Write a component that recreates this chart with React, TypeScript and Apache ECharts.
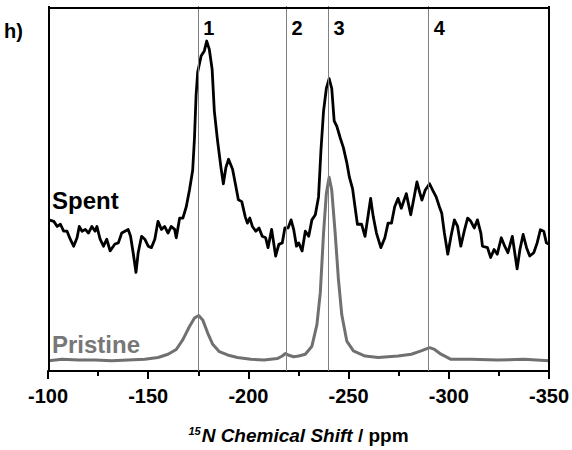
import React, { useEffect, useRef } from "react";
import * as echarts from "echarts";

// 15N chemical shift (ppm) and intensity (a.u., 0-100)
const spentShift = [
  -100.4, -102.9, -104.6, -106.2, -107.8, -109.5, -111.1, -112.8, -114.5, -115.6,
  -117.0, -118.6, -120.2, -121.9, -123.5, -124.4, -126.0, -127.7, -129.3, -131.0,
  -133.4, -135.1, -136.8, -138.4, -140.0, -141.2, -142.5, -143.9, -145.0, -146.7,
  -148.3, -150.0, -151.6, -153.3, -154.9, -156.6, -158.2, -159.9, -161.5, -163.2,
  -164.0, -165.7, -167.3, -169.0, -170.6, -172.2, -173.1, -173.9, -174.7, -176.4,
  -178.0, -179.2, -180.5, -181.9, -183.0, -184.6, -186.3, -187.5, -188.8, -190.1,
  -192.1, -193.8, -195.0, -196.7, -198.4, -199.5, -200.7, -202.0, -203.7, -205.3,
  -206.9, -208.6, -209.8, -211.6, -213.6, -215.2, -216.9, -218.2, -219.8, -221.3,
  -222.6, -224.0, -225.1, -226.8, -228.4, -230.1, -231.7, -233.4, -235.0, -236.2,
  -237.5, -238.9, -240.3, -241.6, -242.8, -244.1, -245.8, -247.4, -249.1, -250.4,
  -252.0, -253.2, -254.4, -256.5, -258.2, -259.8, -261.0, -262.3, -263.9, -266.1,
  -268.1, -269.7, -271.4, -273.0, -274.7, -276.3, -278.8, -281.0, -282.1, -284.1,
  -285.4, -286.6, -288.2, -290.4, -292.0, -293.7, -295.3, -296.5, -297.8, -299.5,
  -301.1, -302.8, -304.4, -306.0, -307.7, -309.4, -311.0, -312.7, -314.3, -316.0,
  -316.8, -319.3, -320.9, -322.6, -324.2, -326.2, -327.9, -329.5, -331.7, -334.1,
  -335.5, -337.1, -338.8, -340.4, -342.4, -344.1, -345.7, -347.4, -348.7, -350.0,
];
const spentIntensity = [
  41.4, 41.0, 39.6, 40.2, 38.3, 38.3, 36.1, 34.2, 36.5, 39.6,
  38.3, 38.8, 37.8, 39.6, 38.3, 39.6, 36.1, 34.2, 36.1, 32.9,
  34.8, 35.1, 37.8, 38.3, 38.8, 36.9, 32.4, 27.0, 32.4, 36.9,
  36.1, 34.2, 33.8, 36.1, 41.0, 38.8, 39.6, 37.8, 39.6, 38.8,
  36.5, 41.9, 41.9, 45.0, 49.6, 55.0, 63.9, 75.6, 81.9, 86.3,
  87.7, 90.4, 88.1, 82.7, 71.2, 63.1, 55.8, 51.3, 55.8, 58.0,
  55.3, 50.4, 46.9, 46.4, 42.3, 40.5, 41.9, 39.6, 38.3, 39.2,
  36.9, 36.5, 33.8, 38.8, 31.5, 34.7, 35.1, 39.2, 39.2, 41.4,
  38.8, 34.2, 35.1, 32.9, 38.3, 36.9, 41.4, 42.8, 47.7, 60.4,
  71.2, 77.4, 80.1, 77.4, 68.5, 67.1, 63.9, 61.2, 57.1, 53.1,
  49.9, 45.0, 40.2, 40.2, 36.9, 42.8, 47.3, 42.3, 37.8, 33.8,
  36.5, 40.5, 40.5, 45.0, 47.3, 44.6, 48.6, 42.8, 45.9, 51.8,
  49.1, 46.8, 49.5, 51.3, 49.5, 47.7, 45.0, 43.2, 37.8, 32.0,
  36.9, 41.4, 39.6, 34.2, 38.3, 41.9, 41.0, 39.2, 41.4, 37.8,
  34.2, 33.8, 31.1, 33.3, 32.0, 36.5, 34.2, 32.4, 36.9, 28.0,
  33.3, 37.4, 33.8, 31.5, 32.4, 35.1, 38.7, 38.3, 35.1, 34.7,
];

const pristineShift = [
  -100.4, -107.0, -115.3, -123.5, -131.8, -140.0, -148.3, -154.9, -159.9, -164.0,
  -167.3, -170.6, -173.1, -175.2, -177.2, -179.7, -182.2, -185.5, -189.6, -194.5,
  -201.2, -207.8, -214.4, -216.9, -218.5, -220.2, -222.6, -225.1, -228.4, -231.7,
  -234.2, -235.9, -237.5, -238.9, -240.3, -241.6, -243.3, -244.9, -246.6, -249.1,
  -252.4, -258.2, -264.8, -274.7, -281.3, -286.2, -290.4, -292.9, -296.1, -301.1,
  -311.0, -324.2, -337.5, -350.0,
];
const pristineIntensity = [
  2.8, 3.2, 3.0, 3.0, 2.8, 3.0, 3.2, 3.7, 4.6, 5.9,
  8.6, 12.2, 14.5, 15.2, 14.0, 10.4, 7.3, 5.3, 4.4, 3.7,
  3.2, 3.0, 3.4, 4.1, 4.8, 4.3, 3.9, 4.1, 4.6, 6.8,
  12.7, 21.6, 37.8, 48.6, 53.1, 49.5, 37.8, 25.3, 15.4, 8.2,
  5.5, 4.1, 3.7, 4.1, 4.6, 5.5, 6.4, 5.9, 4.6, 3.2,
  3.2, 3.0, 3.2, 2.8,
];

const peakShifts = [-175, -219, -240, -290];
const peakLabels = ["1", "2", "3", "4"];
const peakLabelLevel = 94;

// axis limits
const X_MIN = -350;
const X_MAX = -100;
const Y_MIN = 0;
const Y_MAX = 100;
// frame lines of the plot box, placed just inside the limits
const frameLeft = -100.3;
const frameRight = -349.8;
const frameTop = 99.6;

const FONT = "'Liberation Sans', Arial, sans-serif";

export default function App() {
  const ref = useRef<HTMLDivElement>(null);

  useEffect(() => {
    if (!ref.current) return;
    const chart = echarts.init(ref.current, null, { renderer: "svg" });

    const spent = spentShift.map((x, i) => [x, spentIntensity[i]]);
    const pristine = pristineShift.map((x, i) => [x, pristineIntensity[i]]);
    const peaks = peakShifts.map((x, i) => ({ value: [x, peakLabelLevel], name: peakLabels[i] }));
    const frameStyle = { color: "#000", width: 2, type: "solid" };

    chart.setOption({
      animation: false,
      backgroundColor: "#fff",
      textStyle: { fontFamily: FONT },
      grid: { left: 48, right: 18, top: 6, bottom: 73 },
      xAxis: {
        type: "value",
        min: X_MIN,
        max: X_MAX,
        interval: 50,
        inverse: true,
        position: "bottom",
        axisLine: { show: true, onZero: false, lineStyle: { color: "#000", width: 2 } },
        axisTick: { show: true, inside: false, length: 8, lineStyle: { color: "#000", width: 2 } },
        minorTick: { show: true, splitNumber: 2, length: 5, lineStyle: { color: "#000", width: 2 } },
        splitLine: { show: false },
        axisLabel: {
          margin: 15,
          color: "#000",
          fontSize: 20,
          fontWeight: "bold",
          fontFamily: FONT,
        },
        name: "{sup|15}{it|N Chemical Shift}{n| / ppm}",
        nameLocation: "middle",
        nameGap: 54,
        nameTextStyle: {
          color: "#000",
          fontFamily: FONT,
          rich: {
            sup: { fontSize: 11, fontWeight: "bold", fontStyle: "italic", color: "#000", padding: [0, 1, 10, 0], fontFamily: FONT },
            it: { fontSize: 19, fontWeight: "bold", fontStyle: "italic", color: "#000", fontFamily: FONT },
            n: { fontSize: 19, fontWeight: "bold", color: "#000", fontFamily: FONT },
          },
        },
      },
      yAxis: {
        type: "value",
        min: Y_MIN,
        max: Y_MAX,
        axisLine: { show: false },
        axisTick: { show: false },
        axisLabel: { show: false },
        splitLine: { show: false },
      },
      series: [
        {
          name: "Pristine",
          type: "line",
          data: pristine,
          showSymbol: false,
          symbol: "none",
          lineStyle: { color: "#707070", width: 3, join: "round" },
          z: 3,
          markLine: {
            silent: true,
            symbol: "none",
            label: { show: false },
            lineStyle: { color: "#808080", width: 1, type: "solid" },
            data: peakShifts.map((x) => ({ xAxis: x })),
          },
        },
        {
          name: "Spent",
          type: "line",
          data: spent,
          showSymbol: false,
          symbol: "none",
          lineStyle: { color: "#000", width: 2.8, join: "round" },
          z: 4,
          markLine: {
            silent: true,
            symbol: "none",
            label: { show: false },
            lineStyle: frameStyle,
            data: [
              { xAxis: frameLeft, lineStyle: frameStyle },
              { xAxis: frameRight, lineStyle: frameStyle },
              { yAxis: frameTop, lineStyle: frameStyle },
            ],
          },
        },
        {
          name: "peaks",
          type: "scatter",
          data: peaks,
          symbolSize: 0,
          itemStyle: { opacity: 1 },
          label: {
            show: true,
            position: "right",
            distance: 5,
            formatter: (p: any) => p.name,
            color: "#000",
            opacity: 1,
            fontSize: 20,
            fontWeight: "bold",
            fontFamily: FONT,
          },
          z: 5,
        },
      ],
      graphic: [
        {
          type: "text",
          left: 4,
          top: 21,
          style: { text: "h)", fill: "#000", font: `bold 20px ${FONT}` },
        },
        {
          type: "text",
          left: 52,
          top: 188,
          style: { text: "Spent", fill: "#000", font: `bold 24px ${FONT}` },
        },
        {
          type: "text",
          left: 52,
          top: 332,
          style: { text: "Pristine", fill: "#777", font: `bold 24px ${FONT}` },
        },
      ],
    });

    return () => chart.dispose();
  }, []);

  return (
    <div
      ref={ref}
      style={{ position: "absolute", left: 0, top: 0, width: 572, height: 450, background: "#fff" }}
    />
  );
}
